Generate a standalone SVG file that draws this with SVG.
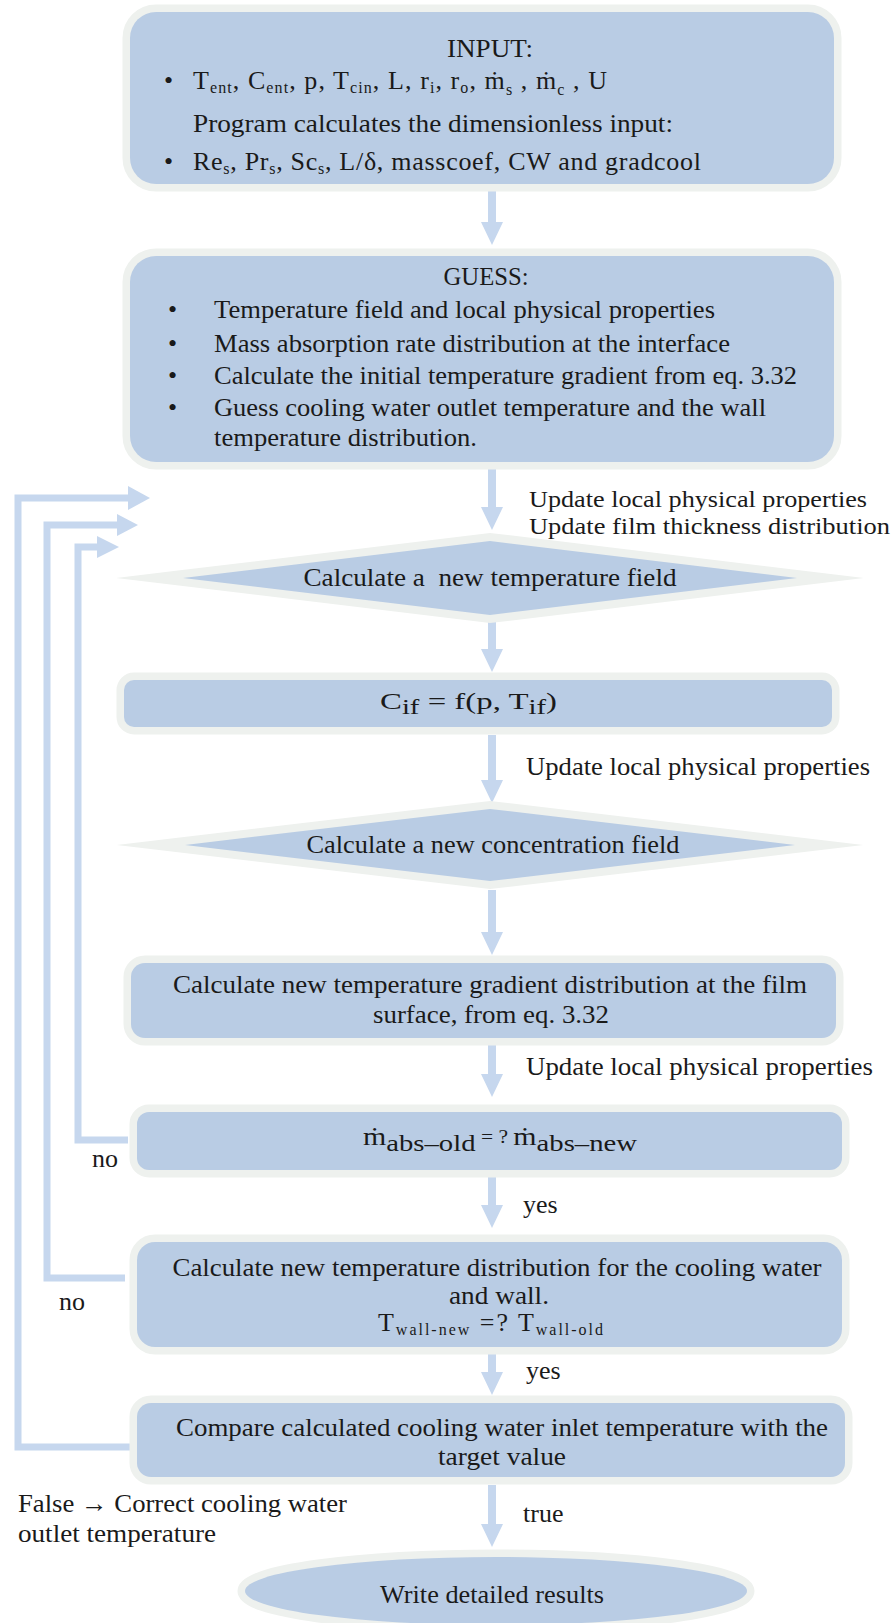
<svg xmlns="http://www.w3.org/2000/svg" width="892" height="1623" viewBox="0 0 892 1623">
<style>
.box{fill:#b9cce4;stroke:#eef1ee;stroke-width:15;paint-order:stroke;stroke-linejoin:miter;stroke-miterlimit:40}
.arr{fill:#c6d7ee}
.loop{fill:none;stroke:#c6d7ee;stroke-width:7;stroke-linejoin:miter}
text{font-family:"Liberation Serif","Times New Roman",serif;font-size:26px;fill:#1a1a1a}
.c{text-anchor:middle}
.sub{font-size:16px}
.upd{font-size:24px}
</style>
<rect width="892" height="1623" fill="#ffffff"/>

<g id="connectors">
  <path class="arr" d="M488,188 V222 H481 L492,245 L503,222 H496 V188 Z"/>
  <path class="arr" d="M488,469 V507 H481 L492,530 L503,507 H496 V469 Z"/>
  <path class="arr" d="M488,622 V649 H481 L492,672 L503,649 H496 V622 Z"/>
  <path class="arr" d="M488,735 V780 H481 L492,803 L503,780 H496 V735 Z"/>
  <path class="arr" d="M488,890 V932 H481 L492,955 L503,932 H496 V890 Z"/>
  <path class="arr" d="M488,1045 V1074 H481 L492,1097 L503,1074 H496 V1045 Z"/>
  <path class="arr" d="M488,1177 V1205 H481 L492,1228 L503,1205 H496 V1177 Z"/>
  <path class="arr" d="M488,1353 V1372 H481 L492,1395 L503,1372 H496 V1353 Z"/>
  <path class="arr" d="M488,1485 V1524 H481 L492,1547 L503,1524 H496 V1485 Z"/>
  <path class="loop" d="M131,1447 H18 V498 H129"/>
  <polygon class="arr" points="128,486 150,498 128,510"/>
  <path class="loop" d="M125,1278 H47 V525 H118"/>
  <polygon class="arr" points="117,514 138,525 117,536"/>
  <path class="loop" d="M128,1140 H78 V547 H98"/>
  <polygon class="arr" points="97,536 119,547 97,558"/>
  <text x="92" y="1167">no</text>
  <text x="59" y="1310">no</text>
  <text x="523" y="1213">yes</text>
  <text x="526" y="1379">yes</text>
  <text x="523" y="1522">true</text>
  <text x="18" y="1512" textLength="329" lengthAdjust="spacingAndGlyphs">False → Correct cooling water</text>
  <text x="18" y="1542" textLength="198" lengthAdjust="spacingAndGlyphs">outlet temperature</text>
  <text class="upd" x="529" y="507" textLength="338" lengthAdjust="spacingAndGlyphs">Update local physical properties</text>
  <text class="upd" x="529" y="534" textLength="361" lengthAdjust="spacingAndGlyphs">Update film thickness distribution</text>
  <text x="526" y="775" textLength="344" lengthAdjust="spacingAndGlyphs">Update local physical properties</text>
  <text x="526" y="1075" textLength="347" lengthAdjust="spacingAndGlyphs">Update local physical properties</text>
</g>

<g id="input">
  <rect class="box" x="130" y="12" width="704" height="172" rx="26"/>
  <text class="c" x="490" y="57" textLength="86" lengthAdjust="spacingAndGlyphs">INPUT:</text>
  <text x="164" y="89">•</text>
  <text x="193" y="89" textLength="414" lengthAdjust="spacing">T<tspan class="sub" dy="4">ent</tspan><tspan dy="-4">, C</tspan><tspan class="sub" dy="4">ent</tspan><tspan dy="-4">, p, T</tspan><tspan class="sub" dy="4">cin</tspan><tspan dy="-4">, L, r</tspan><tspan class="sub" dy="4">i</tspan><tspan dy="-4">, r</tspan><tspan class="sub" dy="4">o</tspan><tspan dy="-4">,  ṁ</tspan><tspan class="sub" dy="6">s</tspan><tspan dy="-6"> ,  ṁ</tspan><tspan class="sub" dy="6">c</tspan><tspan dy="-6"> , U</tspan></text>
  <text x="193" y="132" textLength="480" lengthAdjust="spacingAndGlyphs">Program calculates the dimensionless input:</text>
  <text x="164" y="170">•</text>
  <text x="193" y="170" textLength="508" lengthAdjust="spacing">Re<tspan class="sub" dy="4">s</tspan><tspan dy="-4">, Pr</tspan><tspan class="sub" dy="4">s</tspan><tspan dy="-4">, Sc</tspan><tspan class="sub" dy="4">s</tspan><tspan dy="-4">, L/δ, masscoef, CW and gradcool</tspan></text>
</g>

<g id="guess">
  <rect class="box" x="130" y="256" width="704" height="206" rx="26"/>
  <text class="c" x="486" y="285" textLength="85" lengthAdjust="spacingAndGlyphs">GUESS:</text>
  <text x="168" y="318">•</text>
  <text x="168" y="352">•</text>
  <text x="168" y="384">•</text>
  <text x="168" y="416">•</text>
  <text x="214" y="318" textLength="501" lengthAdjust="spacingAndGlyphs">Temperature field and local physical properties</text>
  <text x="214" y="352" textLength="516" lengthAdjust="spacingAndGlyphs">Mass absorption rate distribution at the interface</text>
  <text x="214" y="384" textLength="583" lengthAdjust="spacingAndGlyphs">Calculate the initial temperature gradient from eq. 3.32</text>
  <text x="214" y="416" textLength="552" lengthAdjust="spacingAndGlyphs">Guess cooling water outlet temperature and the wall</text>
  <text x="214" y="446" textLength="263" lengthAdjust="spacingAndGlyphs">temperature distribution.</text>
</g>

<g id="temp-field">
  <polygon class="box" points="183,578 490,541 797,578 490,615" style="stroke-width:16"/>
  <text class="c" x="490" y="586" textLength="373" lengthAdjust="spacingAndGlyphs">Calculate a&#160; new temperature field</text>
</g>

<g id="cif">
  <rect class="box" x="124" y="680" width="708" height="47" rx="10"/>
  <text x="380" y="709" textLength="177" lengthAdjust="spacingAndGlyphs" style="font-size:24px">C<tspan dy="5" style="font-size:21px">if</tspan><tspan dy="-5"> = f(p, T</tspan><tspan dy="5" style="font-size:21px">if</tspan><tspan dy="-5">)</tspan></text>
</g>

<g id="conc-field">
  <polygon class="box" points="185,845 490,809 795,845 490,881" style="stroke-width:16"/>
  <text class="c" x="493" y="853" textLength="373" lengthAdjust="spacingAndGlyphs">Calculate a new concentration field</text>
</g>

<g id="gradient">
  <rect class="box" x="131" y="963" width="705" height="75" rx="14"/>
  <text class="c" x="490" y="993" textLength="634" lengthAdjust="spacingAndGlyphs">Calculate new temperature gradient distribution at the film</text>
  <text class="c" x="491" y="1023" textLength="236" lengthAdjust="spacingAndGlyphs">surface, from eq. 3.32</text>
</g>

<g id="mabs">
  <rect class="box" x="137" y="1112" width="705" height="58" rx="12"/>
  <text x="363" y="1145" textLength="274" lengthAdjust="spacingAndGlyphs" style="font-size:25px">ṁ<tspan dy="6" style="font-size:24px">abs–old</tspan><tspan dy="-8" style="font-size:18px"> = ? </tspan><tspan dy="2">ṁ</tspan><tspan dy="6" style="font-size:24px">abs–new</tspan></text>
</g>

<g id="wall">
  <rect class="box" x="137" y="1242" width="705" height="105" rx="18"/>
  <text class="c" x="497" y="1276" textLength="649" lengthAdjust="spacingAndGlyphs">Calculate new temperature distribution for the cooling water</text>
  <text class="c" x="499" y="1304" textLength="100" lengthAdjust="spacingAndGlyphs">and wall.</text>
  <text x="378" y="1331" textLength="225" lengthAdjust="spacing">T<tspan class="sub" dy="4">wall-new</tspan><tspan dy="-4"> =? T</tspan><tspan class="sub" dy="4">wall-old</tspan></text>
</g>

<g id="compare">
  <rect class="box" x="137" y="1403" width="708" height="74" rx="14"/>
  <text class="c" x="502" y="1436" textLength="652" lengthAdjust="spacingAndGlyphs">Compare calculated cooling water inlet temperature with the</text>
  <text class="c" x="502" y="1465" textLength="128" lengthAdjust="spacingAndGlyphs">target value</text>
</g>

<g id="results">
  <ellipse class="box" cx="496" cy="1591" rx="251" ry="34"/>
  <text class="c" x="492" y="1603" textLength="224" lengthAdjust="spacingAndGlyphs">Write detailed results</text>
</g>
</svg>
